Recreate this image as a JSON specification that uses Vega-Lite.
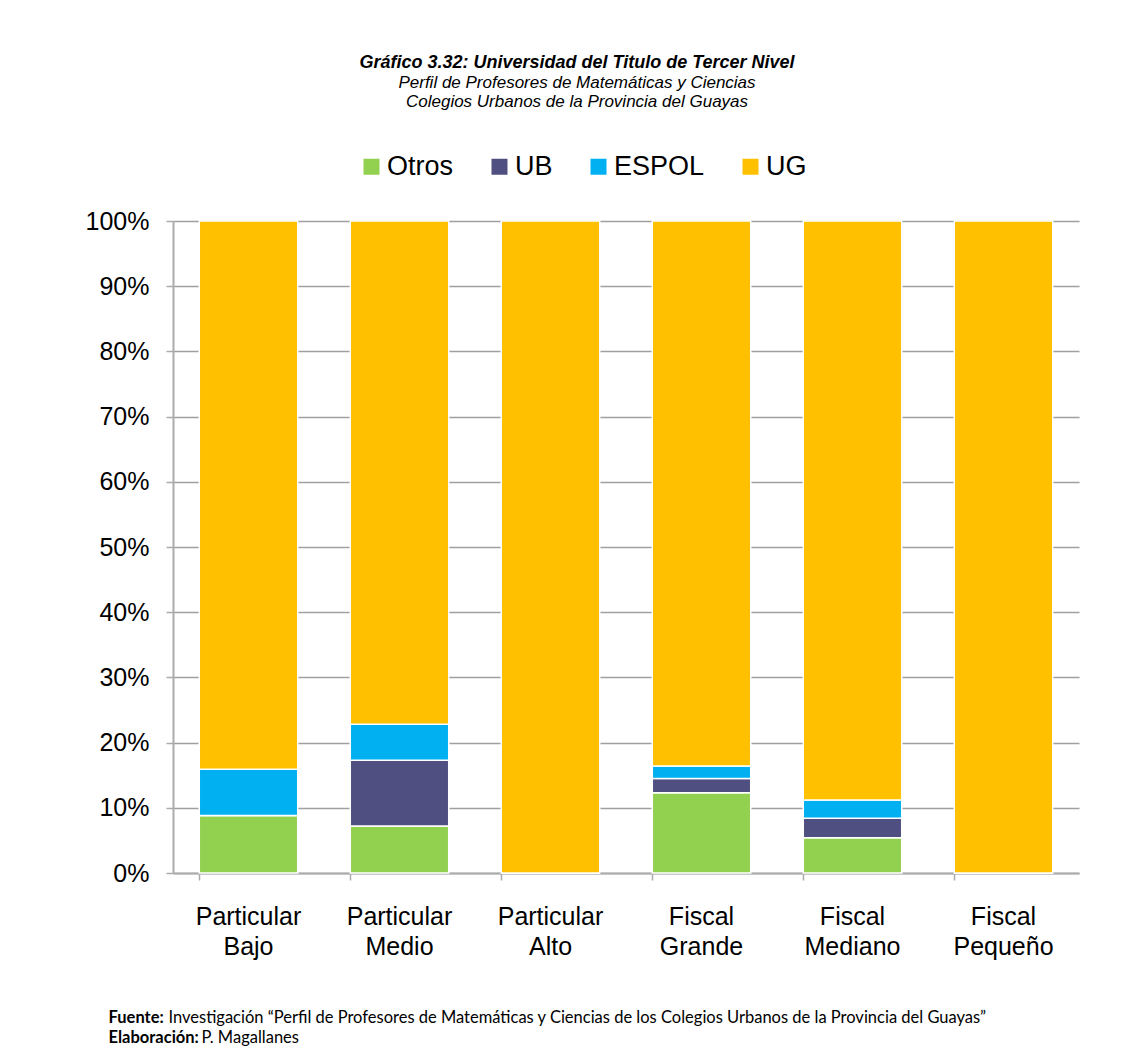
{
  "$schema": "https://vega.github.io/schema/vega-lite/v6.json",
  "width": 906,
  "height": 652,
  "autosize": {"type": "none"},
  "padding": {"left": 173, "top": 221, "right": 65, "bottom": 191},
  "background": "white",
  "title": {
    "text": "Gráfico 3.32: Universidad del Titulo de Tercer Nivel",
    "subtitle": ["Perfil de Profesores de Matemáticas y Ciencias", "Colegios Urbanos de la Provincia del Guayas"],
    "font": "Liberation Sans",
    "fontSize": 18,
    "fontStyle": "italic",
    "fontWeight": "bold",
    "color": "#000000",
    "subtitleFont": "Liberation Sans",
    "subtitleFontSize": 17,
    "subtitleFontStyle": "italic",
    "subtitleColor": "#000000",
    "subtitleLineHeight": 19,
    "subtitlePadding": 3,
    "anchor": "middle",
    "dx": -49,
    "offset": 43
  },
  "data": {
    "values": [
      {"categoria": "Particular Bajo", "universidad": "Otros", "orden": 1, "valor": 8.8},
      {"categoria": "Particular Bajo", "universidad": "UB", "orden": 2, "valor": 0},
      {"categoria": "Particular Bajo", "universidad": "ESPOL", "orden": 3, "valor": 7.1},
      {"categoria": "Particular Bajo", "universidad": "UG", "orden": 4, "valor": 84.1},
      {"categoria": "Particular Medio", "universidad": "Otros", "orden": 1, "valor": 7.2},
      {"categoria": "Particular Medio", "universidad": "UB", "orden": 2, "valor": 10.1},
      {"categoria": "Particular Medio", "universidad": "ESPOL", "orden": 3, "valor": 5.5},
      {"categoria": "Particular Medio", "universidad": "UG", "orden": 4, "valor": 77.2},
      {"categoria": "Particular Alto", "universidad": "Otros", "orden": 1, "valor": 0},
      {"categoria": "Particular Alto", "universidad": "UB", "orden": 2, "valor": 0},
      {"categoria": "Particular Alto", "universidad": "ESPOL", "orden": 3, "valor": 0},
      {"categoria": "Particular Alto", "universidad": "UG", "orden": 4, "valor": 100},
      {"categoria": "Fiscal Grande", "universidad": "Otros", "orden": 1, "valor": 12.3},
      {"categoria": "Fiscal Grande", "universidad": "UB", "orden": 2, "valor": 2.2},
      {"categoria": "Fiscal Grande", "universidad": "ESPOL", "orden": 3, "valor": 1.9},
      {"categoria": "Fiscal Grande", "universidad": "UG", "orden": 4, "valor": 83.6},
      {"categoria": "Fiscal Mediano", "universidad": "Otros", "orden": 1, "valor": 5.4},
      {"categoria": "Fiscal Mediano", "universidad": "UB", "orden": 2, "valor": 3.0},
      {"categoria": "Fiscal Mediano", "universidad": "ESPOL", "orden": 3, "valor": 2.8},
      {"categoria": "Fiscal Mediano", "universidad": "UG", "orden": 4, "valor": 88.8},
      {"categoria": "Fiscal Pequeño", "universidad": "Otros", "orden": 1, "valor": 0},
      {"categoria": "Fiscal Pequeño", "universidad": "UB", "orden": 2, "valor": 0},
      {"categoria": "Fiscal Pequeño", "universidad": "ESPOL", "orden": 3, "valor": 0},
      {"categoria": "Fiscal Pequeño", "universidad": "UG", "orden": 4, "valor": 100}
    ]
  },
  "layer": [
    {
      "mark": {"type": "bar", "stroke": "white", "strokeWidth": 1.5},
      "encoding": {
        "x": {
          "field": "categoria",
          "type": "nominal",
          "sort": ["Particular Bajo", "Particular Medio", "Particular Alto", "Fiscal Grande", "Fiscal Mediano", "Fiscal Pequeño"],
          "scale": {"paddingInner": 0.348, "paddingOuter": 0.174},
          "axis": {
            "orient": "bottom",
            "labelAngle": 0,
            "labelExpr": "split(datum.label, ' ')",
            "labelFont": "Liberation Sans",
            "labelFontSize": 25,
            "labelColor": "#000000",
            "labelLineHeight": 30,
            "labelPadding": 24,
            "labelBaseline": "top",
            "bandPosition": 0,
            "tickSize": 7,
            "tickColor": "#ABABAB",
            "tickWidth": 1.5,
            "domainColor": "#ABABAB",
            "domainWidth": 2,
            "grid": false,
            "title": "Investigación “Perfil de Profesores de Matemáticas y Ciencias de los Colegios Urbanos de la Provincia del Guayas”",
            "titleFont": "Lato",
            "titleFontSize": 16.5,
            "titleFontWeight": "normal",
            "titleColor": "#000000",
            "titleAnchor": "start",
            "titleAlign": "left",
            "titleBaseline": "alphabetic",
            "titleX": -5,
            "titleY": 149
          }
        },
        "y": {
          "field": "valor",
          "type": "quantitative",
          "stack": "normalize",
          "scale": {"domain": [0, 1], "nice": false},
          "axis": {
            "values": [0, 0.1, 0.2, 0.3, 0.4, 0.5, 0.6, 0.7, 0.8, 0.9, 1],
            "format": ".0%",
            "labelFont": "Liberation Sans",
            "labelFontSize": 25,
            "labelColor": "#000000",
            "labelPadding": 17,
            "tickSize": 7,
            "tickColor": "#ABABAB",
            "tickWidth": 1.5,
            "domainColor": "#ABABAB",
            "domainWidth": 2,
            "gridColor": "#A0A0A0",
            "gridWidth": 1.3,
            "title": null
          }
        },
        "order": {"field": "orden", "type": "quantitative", "sort": "ascending"},
        "color": {
          "field": "universidad",
          "type": "nominal",
          "sort": ["Otros", "UB", "ESPOL", "UG"],
          "scale": {"domain": ["Otros", "UB", "ESPOL", "UG"], "range": ["#92D050", "#4F4F81", "#00B0F0", "#FFC000"]},
          "legend": {
            "title": null,
            "orient": "none",
            "direction": "horizontal",
            "legendX": 185,
            "legendY": -68,
            "symbolType": "square",
            "symbolSize": 256,
            "symbolStrokeWidth": 0,
            "labelFont": "Liberation Sans",
            "labelFontSize": 27,
            "labelColor": "#000000",
            "labelOffset": 2,
            "columnPadding": 32
          }
        }
      }
    },
    {
      "mark": {"type": "bar", "opacity": 0},
      "encoding": {
        "x": {
          "field": "categoria",
          "type": "nominal",
          "sort": ["Particular Bajo", "Particular Medio", "Particular Alto", "Fiscal Grande", "Fiscal Mediano", "Fiscal Pequeño"],
          "axis": {
            "orient": "bottom",
            "labels": false,
            "ticks": false,
            "domain": false,
            "grid": false,
            "title": ["Fuente:", "Elaboración:"],
            "titleFont": "Lato",
            "titleFontSize": 16.5,
            "titleFontWeight": "bold",
            "titleColor": "#000000",
            "titleAnchor": "start",
            "titleAlign": "left",
            "titleBaseline": "alphabetic",
            "titleLineHeight": 20,
            "titleX": -65,
            "titleY": 149
          }
        }
      }
    },
    {
      "mark": {"type": "bar", "opacity": 0},
      "encoding": {
        "x": {
          "field": "categoria",
          "type": "nominal",
          "sort": ["Particular Bajo", "Particular Medio", "Particular Alto", "Fiscal Grande", "Fiscal Mediano", "Fiscal Pequeño"],
          "axis": {
            "orient": "bottom",
            "labels": false,
            "ticks": false,
            "domain": false,
            "grid": false,
            "title": "P. Magallanes",
            "titleFont": "Lato",
            "titleFontSize": 16.5,
            "titleFontWeight": "normal",
            "titleColor": "#000000",
            "titleAnchor": "start",
            "titleAlign": "left",
            "titleBaseline": "alphabetic",
            "titleX": 28,
            "titleY": 169
          }
        }
      }
    }
  ],
  "resolve": {"axis": {"x": "independent"}},
  "config": {
    "view": {"stroke": null}
  }
}
